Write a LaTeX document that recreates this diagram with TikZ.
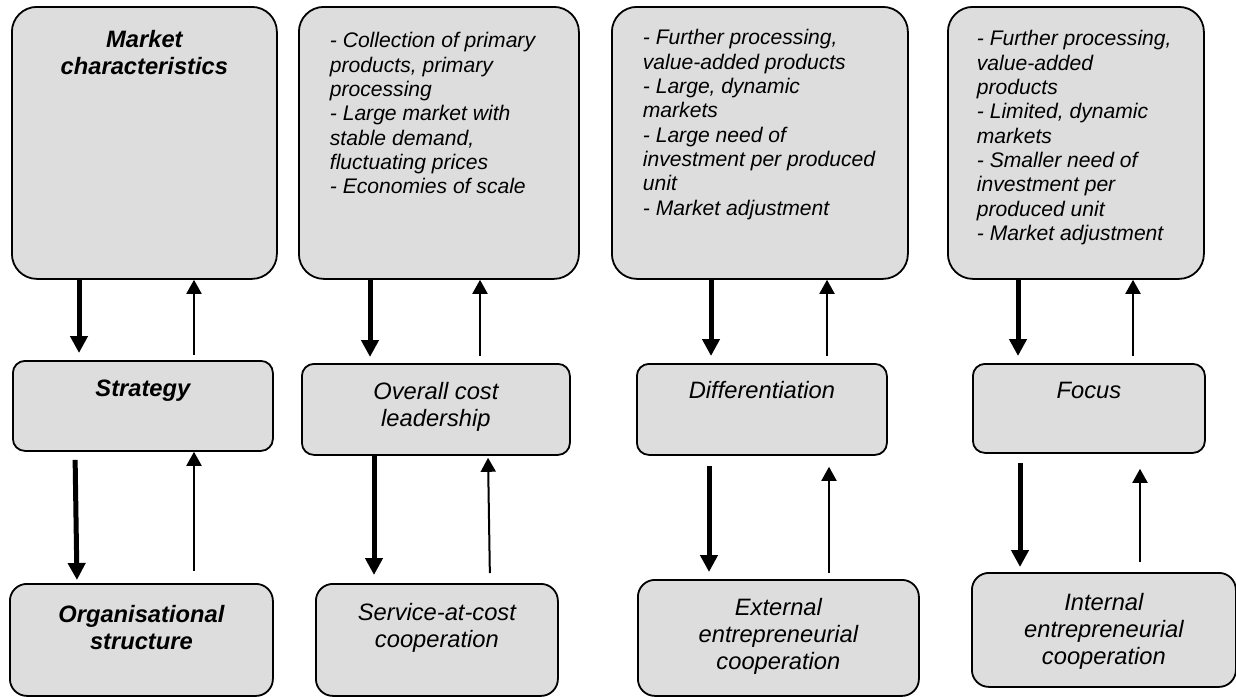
\documentclass[tikz,border=0pt]{standalone}
\usepackage{fontspec}
\setmainfont{Liberation Sans}
\usetikzlibrary{arrows.meta}
\definecolor{boxfill}{RGB}{221,221,221}
% box body of exact size: width, height (pt), content set from the top
\newcommand\cellbody[3]{\parbox[c][#2pt][t]{#1pt}{#3}}
\tikzset{
  cell/.style={draw=black, line width=1.8pt, fill=boxfill, inner sep=0pt,
    anchor=north west},
  bigcell/.style={cell, rounded corners=25pt},
  midcell/.style={cell, rounded corners=12pt},
  lowcell/.style={cell, rounded corners=17pt},
  smalltext/.style={font=\fontsize{21.1pt}{24.3pt}\selectfont\itshape},
  plaintext/.style={font=\fontsize{23.7pt}{27pt}\selectfont\itshape},
  headtext/.style={font=\fontsize{23.7pt}{27pt}\selectfont\bfseries\itshape},
  heavy/.style={line width=5pt, -{Triangle[width=17pt,length=17pt]}},
  light/.style={line width=2pt, -{Triangle[width=15pt,length=14pt]}},
}
\begin{document}
\begin{tikzpicture}[x=1pt, y=-1pt]
\useasboundingbox (0,0) rectangle (1236,696);

% ---- top row: market characteristics ----
\node[bigcell, headtext] (m1) at (11,6) {\cellbody{265}{272}{\centering\rule{0pt}{41pt}Market\\characteristics}};
\node[bigcell, smalltext] (m2) at (298,6) {\cellbody{280}{272}{\raggedright\leftskip=31pt\rule{0pt}{41pt}- Collection of primary\\products, primary\\processing\\- Large market with\\stable demand,\\fluctuating prices\\- Economies of scale}};
\node[bigcell, smalltext] (m3) at (611,6) {\cellbody{296}{272}{\raggedright\leftskip=31pt\rule{0pt}{38pt}- Further processing,\\value-added products\\- Large, dynamic\\markets\\- Large need of\\investment per produced\\unit\\- Market adjustment}};
\node[bigcell, smalltext] (m4) at (947,6) {\cellbody{256}{272}{\raggedright\leftskip=29pt\rule{0pt}{39pt}- Further processing,\\value-added\\products\\- Limited, dynamic\\markets\\- Smaller need of\\investment per\\produced unit\\- Market adjustment}};

% ---- middle row: strategy ----
\node[midcell, headtext] (s1) at (12,360) {\cellbody{260}{90}{\centering\rule{0pt}{36pt}Strategy}};
\node[midcell, plaintext] (s2) at (301,363) {\cellbody{268}{91}{\centering\rule{0pt}{36pt}Overall cost\\leadership}};
\node[midcell, plaintext] (s3) at (636,363) {\cellbody{250}{91}{\centering\rule{0pt}{35pt}Differentiation}};
\node[midcell, plaintext] (s4) at (972,363) {\cellbody{232}{89}{\centering\rule{0pt}{35pt}Focus}};

% ---- bottom row: organisational structure ----
\node[lowcell, headtext] (o1) at (9,583) {\cellbody{263}{112}{\centering\rule{0pt}{39pt}Organisational\\structure}};
\node[lowcell, plaintext] (o2) at (315,583) {\cellbody{242}{112}{\centering\rule{0pt}{37pt}Service-at-cost\\cooperation}};
\node[lowcell, plaintext] (o3) at (637,579) {\cellbody{281}{116}{\centering\rule{0pt}{36pt}External\\entrepreneurial\\cooperation}};
\node[lowcell, plaintext] (o4) at (971,572) {\cellbody{264}{114}{\centering\rule{0pt}{38pt}Internal\\entrepreneurial\\cooperation}};

% ---- arrows, column 1 ----
\draw[heavy, shorten >=7pt] (m1.south -| 79,0) -- (s1.north -| 79,0);
\draw[light, shorten <=5pt] (s1.north -| 194,0) -- (m1.south -| 194,0);
\draw[heavy, shorten <=8pt, shorten >=3pt] (s1.south -| 75,0) -- (o1.north -| 77,0);
\draw[light, shorten <=12pt] (o1.north -| 194,0) -- (s1.south -| 194,0);

% ---- arrows, column 2 ----
\draw[heavy, shorten >=6pt] (m2.south -| 370,0) -- (s2.north -| 370,0);
\draw[light, shorten <=7pt] (s2.north -| 480,0) -- (m2.south -| 480,0);
\draw[heavy, shorten >=8pt] (s2.south -| 374,0) -- (o2.north -| 374,0);
\draw[light, shorten <=10pt, shorten >=2pt] (o2.north -| 490,0) -- (s2.south -| 488,0);

% ---- arrows, column 3 ----
\draw[heavy, shorten >=7pt] (m3.south -| 711,0) -- (s3.north -| 711,0);
\draw[light, shorten <=7pt] (s3.north -| 827,0) -- (m3.south -| 827,0);
\draw[heavy, shorten <=10pt, shorten >=7pt] (s3.south -| 709,0) -- (o3.north -| 709,0);
\draw[light, shorten <=6pt, shorten >=11pt] (o3.north -| 829,0) -- (s3.south -| 829,0);

% ---- arrows, column 4 ----
\draw[heavy, shorten >=7pt] (m4.south -| 1018,0) -- (s4.north -| 1018,0);
\draw[light, shorten <=7pt] (s4.north -| 1133,0) -- (m4.south -| 1133,0);
\draw[heavy, shorten <=9pt, shorten >=5pt] (s4.south -| 1020,0) -- (o4.north -| 1020,0);
\draw[light, shorten <=10pt, shorten >=15pt] (o4.north -| 1140,0) -- (s4.south -| 1140,0);
\end{tikzpicture}
\end{document}
